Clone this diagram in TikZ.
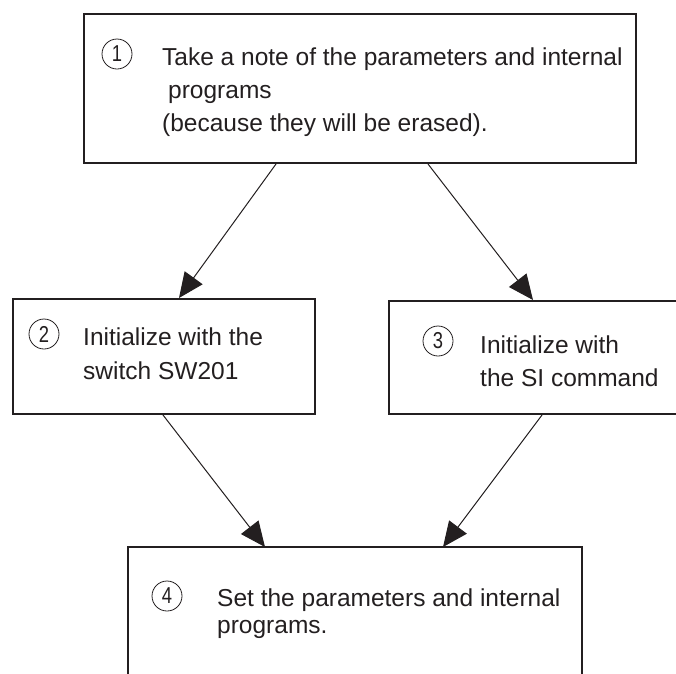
\documentclass[tikz,border=0pt]{standalone}
\usepackage{fontspec}
\setmainfont{Liberation Sans}
\usetikzlibrary{arrows.meta,calc}
\definecolor{ink}{HTML}{231F20}
\newcommand{\narrowdigit}[1]{\scalebox{0.8}[1]{#1}}
\begin{document}
\begin{tikzpicture}[x=1pt,y=-1pt,
  box/.style={draw=ink, line width=2pt, inner sep=0pt, anchor=north west},
  openbox/.style={inner sep=0pt, anchor=north west},
  txt/.style={anchor=base west, inner sep=0pt, text=ink, font=\fontsize{24.5}{24.5}\selectfont},
  num/.style={circle, draw=ink, line width=0.8pt, minimum size=30pt, inner sep=0pt, text=ink, font=\fontsize{23}{23}\selectfont},
  arr/.style={draw=ink, line width=1pt, -{Triangle[length=25pt,width=22pt]}}]
\useasboundingbox (0,0) rectangle (676,673);

% boxes
\node[box, minimum width=552pt, minimum height=149pt] (b1) at (83,13) {};
\node[box, minimum width=302pt, minimum height=115pt] (b2) at (12,298) {};
\node[box, minimum width=300pt, minimum height=113pt] (b3) at (388,300) {};
\node[openbox, minimum width=454pt, minimum height=140pt] (b4) at (128,547) {};
\draw[ink, line width=2pt] (b4.south west) -- (b4.north west) -- (b4.north east) -- (b4.south east);

% box 1 text
\node[num] (n1) at (117,54) {\narrowdigit{1}};
\node[txt] (t1a) at (162,65) {Take a note of the parameters and internal};
\node[txt] (t1b) at (168,98) {programs};
\node[txt] (t1c) at (162,131) {(because they will be erased).};

% box 2 text
\node[num] (n2) at (44,334) {\narrowdigit{2}};
\node[txt] (t2a) at (83,345) {Initialize with the};
\node[txt] (t2b) at (83,379) {switch SW201};

% box 3 text
\node[num] (n3) at (438,341) {\narrowdigit{3}};
\node[txt] (t3a) at (480,353) {Initialize with};
\node[txt] (t3b) at (480,386) {the SI command};

% box 4 text
\node[num] (n4) at (167,596) {\narrowdigit{4}};
\node[txt] (t4a) at (217,606) {Set the parameters and internal};
\node[txt] (t4b) at (217,633) {programs.};

% connectors
\draw[arr] ($(b1.south west)+(193,0)$) -- ($(b2.north west)+(167,0)$);
\draw[arr] ($(b1.south west)+(345,0)$) -- ($(b3.north west)+(145,0)$);
\draw[arr] ($(b2.south west)+(151,0)$) -- ($(b4.north west)+(137,0)$);
\draw[arr] ($(b3.south west)+(154,0)$) -- ($(b4.north west)+(315,0)$);
\end{tikzpicture}
\end{document}
